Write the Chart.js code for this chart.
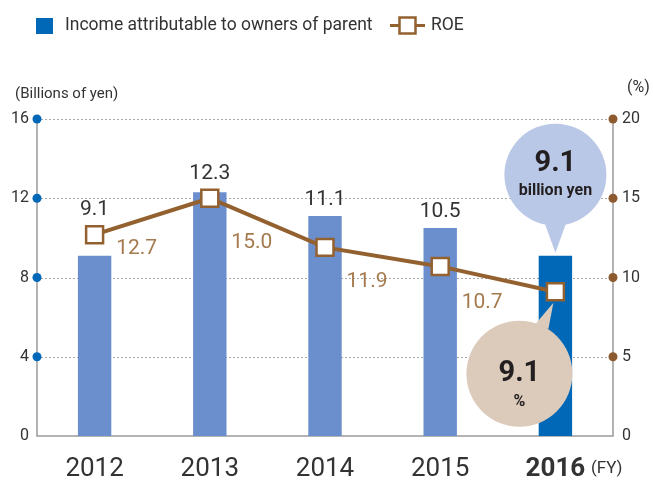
<html>
    <head>
        <script src="https://cdn.jsdelivr.net/npm/chart.js@4.4.0/dist/chart.umd.min.js"></script>
        <style>
            body {
                margin: 0px;
                background: #ffffff;
            }

            #wrap {
                width: 653px;
                height: 485px;
            }
        </style>
    </head>

    <body>
        <div id="wrap">
            <canvas id="chart"></canvas>
        </div>
        <script>
            const years = ['2012', '2013', '2014', '2015', '2016']
            const income = [9.1, 12.3, 11.1, 10.5, 9.1]
            const roe = [12.7, 15.0, 11.9, 10.7, 9.1]
            const incomeLabels = ['9.1', '12.3', '11.1', '10.5', '']
            const roeLabels = ['12.7', '15.0', '11.9', '10.7', '']
            const incomeTicks = [0, 4, 8, 12, 16]
            const roeTicks = [0, 5, 10, 15, 20]

            const FONT = "'Roboto', sans-serif"
            const TEXT = '#333333'
            const BAR_LIGHT = '#6b8fcc'
            const BAR_DARK = '#0068b7'
            const BROWN = '#93612f'
            const BROWN_TEXT = '#a57a4e'
            const AXIS = '#9a9a9a'

            function drawBubble(ctx, cx, cy, r, ax, ay, spread, color) {
                const a = Math.atan2(ay - cy, ax - cx)
                ctx.save()
                ctx.fillStyle = color
                ctx.beginPath()
                ctx.moveTo(cx + r * Math.cos(a - spread), cy + r * Math.sin(a - spread))
                ctx.lineTo(ax, ay)
                ctx.lineTo(cx + r * Math.cos(a + spread), cy + r * Math.sin(a + spread))
                ctx.closePath()
                ctx.fill()
                ctx.beginPath()
                ctx.arc(cx, cy, r, 0, Math.PI * 2)
                ctx.fill()
                ctx.restore()
            }

            // grid + axis lines behind the bars
            const backdrop = {
                id: 'backdrop',
                beforeDatasetsDraw(chart) {
                    const { ctx, chartArea: a, scales } = chart
                    ctx.save()
                    ctx.strokeStyle = '#a8a8a8'
                    ctx.lineWidth = 1
                    ctx.setLineDash([2, 2])
                    incomeTicks.forEach((t) => {
                        if (t === 0) return
                        const y = Math.round(scales.y.getPixelForValue(t)) + 0.5
                        ctx.beginPath()
                        ctx.moveTo(a.left, y)
                        ctx.lineTo(a.right, y)
                        ctx.stroke()
                    })
                    ctx.setLineDash([])
                    ctx.strokeStyle = AXIS
                    ctx.lineWidth = 1.5
                    ctx.beginPath()
                    ctx.moveTo(a.left, a.top)
                    ctx.lineTo(a.left, a.bottom)
                    ctx.lineTo(a.right, a.bottom)
                    ctx.lineTo(a.right, a.top)
                    ctx.stroke()
                    ctx.restore()
                },
            }

            // dots, value labels, callouts, legend and unit texts
            const overlay = {
                id: 'overlay',
                afterDatasetsDraw(chart) {
                    const { ctx, chartArea: a, scales } = chart
                    const barMeta = chart.getDatasetMeta(0)
                    const lineMeta = chart.getDatasetMeta(1)
                    ctx.save()

                    // axis tick dots
                    incomeTicks.forEach((t) => {
                        if (t === 0) return
                        ctx.fillStyle = BAR_DARK
                        ctx.beginPath()
                        ctx.arc(a.left, scales.y.getPixelForValue(t), 4.5, 0, Math.PI * 2)
                        ctx.fill()
                    })
                    roeTicks.forEach((t) => {
                        if (t === 0) return
                        ctx.fillStyle = '#8c5a2e'
                        ctx.beginPath()
                        ctx.arc(a.right, scales.y1.getPixelForValue(t), 4.5, 0, Math.PI * 2)
                        ctx.fill()
                    })

                    // bar values
                    ctx.textAlign = 'center'
                    ctx.textBaseline = 'middle'
                    ctx.font = '21px ' + FONT
                    ctx.fillStyle = TEXT
                    barMeta.data.forEach((bar, i) => {
                        if (!incomeLabels[i]) return
                        const top = Math.min(bar.y, lineMeta.data[i].y - 9)
                        ctx.fillText(incomeLabels[i], bar.x, top - 16)
                    })

                    // ROE values, under the line to the right of each point
                    ctx.fillStyle = BROWN_TEXT
                    lineMeta.data.forEach((pt, i) => {
                        if (!roeLabels[i]) return
                        const next = lineMeta.data[i + 1]
                        const lx = pt.x + 42
                        const ly = pt.y + ((next.y - pt.y) * 42) / (next.x - pt.x)
                        ctx.fillText(roeLabels[i], lx, ly + 27)
                    })

                    // callouts for the latest year
                    const last = years.length - 1
                    const bar = barMeta.data[last]
                    const pt = lineMeta.data[last]
                    drawBubble(ctx, bar.x, bar.y - 81, 51, bar.x, bar.y - 3, 0.2, '#b9c8e6')
                    drawBubble(ctx, pt.x - 36, pt.y + 82, 53, pt.x - 2, pt.y + 11, 0.13, '#dccbbb')
                    ctx.fillStyle = '#231f20'
                    ctx.font = 'bold 29px ' + FONT
                    ctx.fillText(income[last].toFixed(1), bar.x, bar.y - 92)
                    ctx.font = 'bold 16px ' + FONT
                    ctx.fillText('billion yen', bar.x, bar.y - 65)
                    ctx.font = 'bold 29px ' + FONT
                    ctx.fillText(roe[last].toFixed(1), pt.x - 36, pt.y + 82)
                    ctx.font = 'bold 16px ' + FONT
                    ctx.fillText('%', pt.x - 36, pt.y + 110)

                    // unit texts
                    ctx.fillStyle = TEXT
                    ctx.textAlign = 'left'
                    ctx.font = '15px ' + FONT
                    ctx.fillText('(Billions of yen)', 15, 94)
                    ctx.font = '16px ' + FONT
                    ctx.fillText('(%)', 627, 88)
                    ctx.font = '17px ' + FONT
                    ctx.fillText('(FY)', 591, 469)

                    // legend
                    ctx.fillStyle = BAR_DARK
                    ctx.fillRect(36, 18, 17, 16)
                    ctx.fillStyle = TEXT
                    ctx.font = '17.5px ' + FONT
                    ctx.fillText('Income attributable to owners of parent', 65, 26)
                    ctx.strokeStyle = BROWN
                    ctx.lineWidth = 3
                    ctx.beginPath()
                    ctx.moveTo(390, 25.5)
                    ctx.lineTo(425, 25.5)
                    ctx.stroke()
                    ctx.fillStyle = '#ffffff'
                    ctx.lineWidth = 2.5
                    ctx.fillRect(399.5, 17.5, 16, 16)
                    ctx.strokeRect(399.5, 17.5, 16, 16)
                    ctx.fillStyle = TEXT
                    ctx.fillText('ROE', 431, 26)
                    ctx.restore()
                },
            }

            const ctx = document.getElementById('chart')
            const chart = new Chart(ctx, {
                type: 'bar',
                data: {
                    labels: years,
                    datasets: [
                        {
                            type: 'bar',
                            label: 'Income attributable to owners of parent',
                            data: income,
                            yAxisID: 'y',
                            backgroundColor: years.map((_, i) => (i === years.length - 1 ? BAR_DARK : BAR_LIGHT)),
                            categoryPercentage: 1,
                            barPercentage: 0.29,
                            order: 1,
                        },
                        {
                            type: 'line',
                            label: 'ROE',
                            data: roe,
                            yAxisID: 'y1',
                            borderColor: BROWN,
                            borderWidth: 4,
                            tension: 0,
                            pointStyle: 'rect',
                            pointRadius: 12,
                            pointBackgroundColor: '#ffffff',
                            pointBorderColor: BROWN,
                            pointBorderWidth: 2.5,
                            order: 0,
                        },
                    ],
                },
                options: {
                    responsive: true,
                    maintainAspectRatio: false,
                    animation: false,
                    layout: {
                        padding: { top: 119, left: 0, right: 0, bottom: 0 },
                    },
                    plugins: {
                        legend: { display: false },
                        tooltip: { enabled: false },
                    },
                    scales: {
                        x: {
                            grid: { display: false, drawTicks: false },
                            border: { display: false },
                            ticks: {
                                padding: 20,
                                color: TEXT,
                                font: (c) => ({
                                    family: FONT,
                                    size: 26,
                                    lineHeight: 1,
                                    weight: c.index === years.length - 1 ? 'bold' : 'normal',
                                }),
                            },
                            afterFit: (s) => {
                                s.height = 49
                            },
                        },
                        y: {
                            position: 'left',
                            min: 0,
                            max: 16,
                            grid: { display: false, drawTicks: false },
                            border: { display: false },
                            afterBuildTicks: (s) => {
                                s.ticks = incomeTicks.map((v) => ({ value: v }))
                            },
                            ticks: {
                                padding: 8,
                                color: TEXT,
                                font: { family: FONT, size: 16 },
                            },
                            afterFit: (s) => {
                                s.width = 37
                            },
                        },
                        y1: {
                            position: 'right',
                            min: 0,
                            max: 20,
                            grid: { display: false, drawTicks: false },
                            border: { display: false },
                            afterBuildTicks: (s) => {
                                s.ticks = roeTicks.map((v) => ({ value: v }))
                            },
                            ticks: {
                                padding: 9,
                                color: TEXT,
                                font: { family: FONT, size: 16 },
                            },
                            afterFit: (s) => {
                                s.width = 40
                            },
                        },
                    },
                },
                plugins: [backdrop, overlay],
            })
        </script>
    </body>
</html>
